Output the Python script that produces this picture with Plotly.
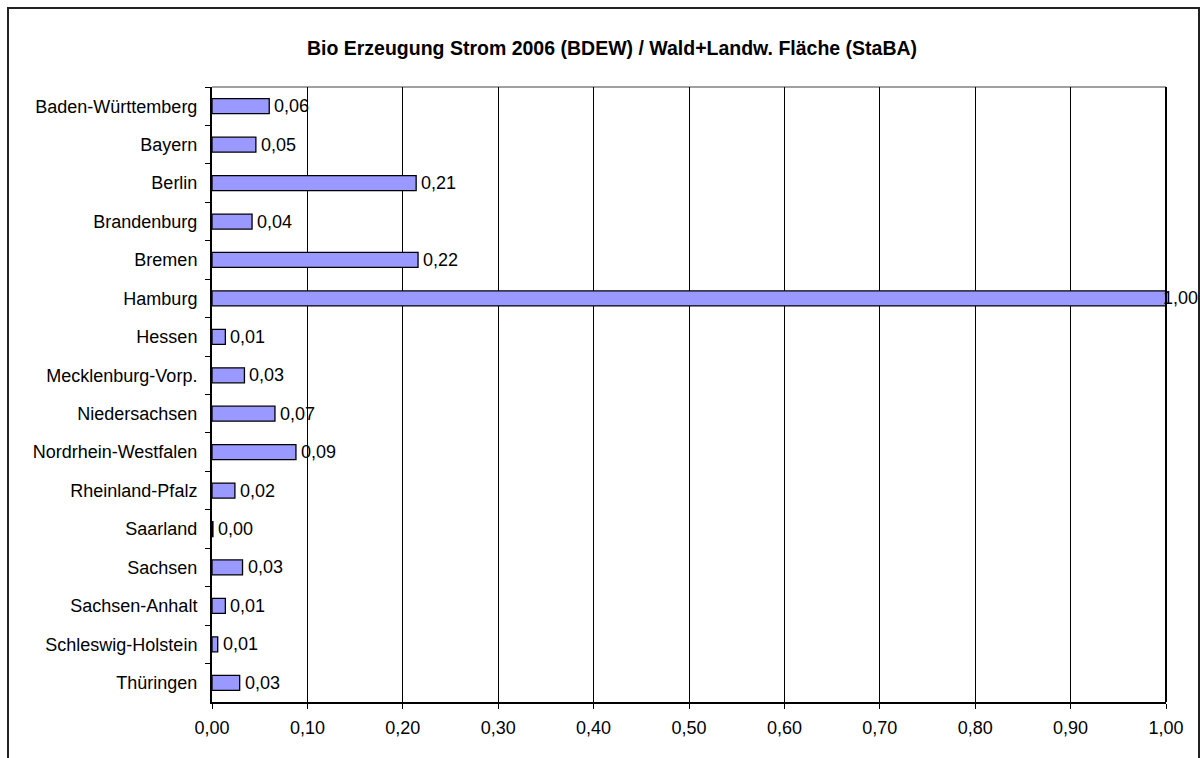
import plotly.graph_objects as go

categories = ["Baden-Württemberg", "Bayern", "Berlin", "Brandenburg", "Bremen",
              "Hamburg", "Hessen", "Mecklenburg-Vorp.", "Niedersachsen",
              "Nordrhein-Westfalen", "Rheinland-Pfalz", "Saarland", "Sachsen",
              "Sachsen-Anhalt", "Schleswig-Holstein", "Thüringen"]
values = [0.060, 0.046, 0.214, 0.042, 0.216, 1.000, 0.014, 0.034, 0.066,
          0.088, 0.024, 0.001, 0.032, 0.014, 0.006, 0.029]
x_ticks = [0.0, 0.1, 0.2, 0.3, 0.4, 0.5, 0.6, 0.7, 0.8, 0.9, 1.0]
title = "Bio Erzeugung Strom 2006 (BDEW) / Wald+Landw. Fläche (StaBA)"

FONT = "Liberation Sans, Arial, sans-serif"

fig = go.Figure(go.Bar(
    x=values, y=categories, orientation="h",
    marker=dict(color="#9999FF", line=dict(color="black", width=1.3)),
    width=0.39, hoverinfo="x+y",
))

L, R, T, B = 212, 34, 87, 56
W, H = 1200, 758
pw, ph = W - L - R, H - T - B

def px_x(p):
    return (p - L) / pw

def px_y(p):
    return (H - B - p) / ph

# value labels (German decimal comma), placed next to the bar ends
annotations = []
for cat, v in zip(categories, values):
    txt = f"{v:.2f}".replace(".", ",")
    if v >= 0.97:
        annotations.append(dict(x=v, y=cat, xref="x", yref="y", text=txt,
                                showarrow=False, xanchor="right", xshift=34,
                                font=dict(family=FONT, size=18, color="black")))
    else:
        annotations.append(dict(x=v, y=cat, xref="x", yref="y", text=txt,
                                showarrow=False, xanchor="left", xshift=3,
                                font=dict(family=FONT, size=18, color="black")))

fig.update_layout(
    width=W, height=H,
    margin=dict(l=L, r=R, t=T, b=B),
    paper_bgcolor="white", plot_bgcolor="white",
    separators=",.",
    showlegend=False,
    font=dict(family=FONT, size=18, color="black"),
    title=dict(text="<b>" + title + "</b>", x=612 / W, xanchor="center",
               y=1 - 48 / H, yanchor="middle",
               font=dict(family=FONT, size=19.5, color="black")),
    xaxis=dict(range=[0, 1], tickvals=x_ticks, tickformat=".2f",
               showgrid=True, gridcolor="black", gridwidth=1,
               showline=True, linecolor="black", linewidth=2,
               ticks="outside", ticklen=5, tickcolor="black",
               zeroline=False, fixedrange=True, ticklabelstandoff=3,
               tickfont=dict(family=FONT, size=18)),
    yaxis=dict(autorange="reversed", showgrid=False,
               showline=True, linecolor="black", linewidth=2,
               ticks="outside", ticklen=5, tickcolor="black",
               tickson="boundaries", ticklabelstandoff=9, fixedrange=True,
               tickfont=dict(family=FONT, size=18)),
    annotations=annotations,
    shapes=[
        dict(type="line", xref="paper", yref="paper", x0=0, x1=1, y0=1, y1=1,
             line=dict(color="#808080", width=1.5), layer="below"),
        dict(type="line", xref="paper", yref="paper", x0=1, x1=1, y0=0, y1=1,
             line=dict(color="black", width=2)),
        dict(type="rect", xref="paper", yref="paper",
             x0=px_x(8), x1=px_x(1199), y0=px_y(775), y1=px_y(8),
             line=dict(color="#222222", width=2), fillcolor="rgba(0,0,0,0)"),
    ],
)

fig.write_html("out.html",
               config={"displayModeBar": False},
               post_script="document.body.style.margin='0';"
                           "document.body.style.overflow='hidden';")
